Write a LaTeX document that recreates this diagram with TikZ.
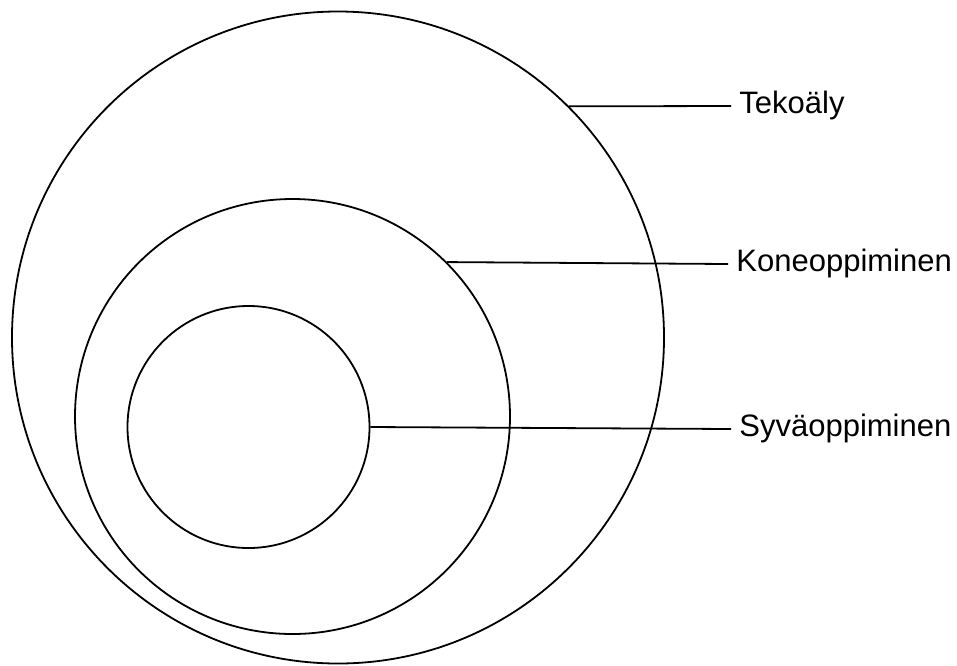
\documentclass[tikz,border=0pt]{standalone}
\usepackage{fontspec}
\setmainfont{Liberation Sans}
\usepackage{tikz}
\usetikzlibrary{
  arrows.meta,
  positioning
}

\begin{document}
\begin{tikzpicture}
  [
    x=0.5pt, y=-0.5pt,
    every node/.style={inner sep=0pt},
    ring/.style={circle, draw=black, line width=0.9pt},
    tag/.style={anchor=west, inner xsep=4pt, text height=0.72em, text depth=0pt,
      font=\fontsize{15.5}{18}\selectfont},
    link/.style={draw=black, line width=0.9pt},
  ]
  % \draw[help lines] grid(957,665);
  \useasboundingbox (0,0) rectangle (957,665);
  \node [ring, minimum size=326pt] (ai) at (338,337.5) {};
  \node [ring, minimum size=217.5pt] (ml) at (292.5,416.5) {};
  \node [ring, minimum size=121pt] (dl) at (248.5,427) {};
  \node [tag] (tekoaly) at (731,106) {Tekoäly};
  \node [tag] (kone) at (728,264) {Koneoppiminen};
  \node [tag] (syva) at (731,429) {Syväoppiminen};
  \draw [link] (ai.45) -- (tekoaly.west);
  \draw [link] (ml.45) -- (kone.west);
  \draw [link] (dl.0) -- (syva.west);
\end{tikzpicture}
\end{document}
